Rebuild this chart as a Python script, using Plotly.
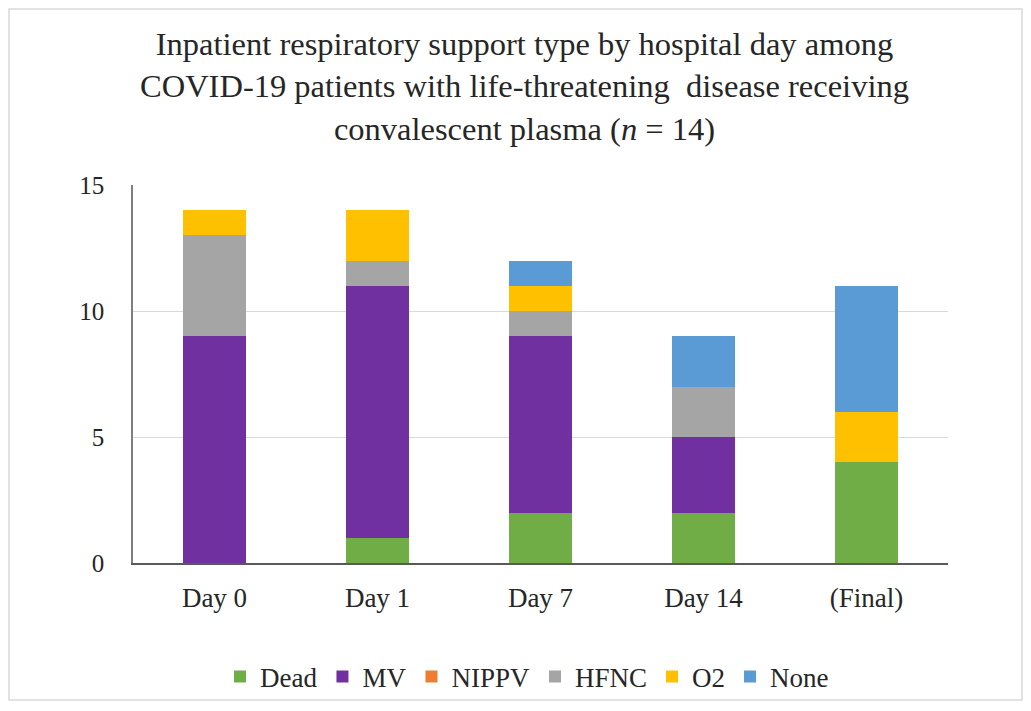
import plotly.graph_objects as go

categories = ["Day 0", "Day 1", "Day 7", "Day 14", "(Final)"]
dead = [0, 1, 2, 2, 4]
mv = [9, 10, 7, 3, 0]
nippv = [0, 0, 0, 0, 0]
hfnc = [4, 1, 1, 2, 0]
o2 = [1, 2, 1, 0, 2]
none_ = [0, 0, 1, 2, 5]

series = [
    ("Dead", dead, "#70AD47"),
    ("MV", mv, "#7030A0"),
    ("NIPPV", nippv, "#ED7D31"),
    ("HFNC", hfnc, "#A5A5A5"),
    ("O2", o2, "#FFC000"),
    ("None", none_, "#5B9BD5"),
]

SERIF = "Liberation Serif"

fig = go.Figure()
for name, vals, color in series:
    fig.add_trace(go.Bar(x=categories, y=vals, name=name, marker_color=color,
                         marker_line_width=0))

OFF = 8  # page offset of the figure in the browser window
W, H = 1031, 711
L, R, T, B = 133 - OFF, 948 - OFF, 185 - OFF, 563 - OFF
fig.update_layout(
    width=W, height=H,
    barmode="stack", bargap=0.61,
    plot_bgcolor="white", paper_bgcolor="white",
    font=dict(family=SERIF, color="#262626", size=24),
    margin=dict(l=L, r=W - R, t=T, b=H - B, autoexpand=False),
    legend=dict(orientation="h", x=(527 - OFF - L) / (R - L), xanchor="center",
                y=-(669 - B) / (B - T), yanchor="middle",
                font=dict(family=SERIF, size=27), bgcolor="rgba(0,0,0,0)",
                traceorder="normal", itemwidth=30),
    xaxis=dict(showline=True, linecolor="#595959", linewidth=1.5, ticks="",
               tickfont=dict(family=SERIF, size=27), ticklabelstandoff=10),
    yaxis=dict(range=[0, 15], tickvals=[0, 5, 10, 15], showgrid=True,
               gridcolor="#D9D9D9", showline=True, linecolor="#7F7F7F",
               linewidth=1.5, ticks="", tickfont=dict(family=SERIF, size=25),
               zeroline=False, ticklabelstandoff=22),
)
fig.add_annotation(
    text="Inpatient respiratory support type by hospital day among<br>COVID-19 patients with life-threatening  disease receiving<br>convalescent plasma (<i>n</i> = 14)",
    xref="paper", yref="paper", x=(524 - OFF - L) / (R - L), y=(B - (86 - OFF)) / (B - T),
    xanchor="center", yanchor="middle", showarrow=False,
    font=dict(family=SERIF, size=32.5, color="#262626"),
)
fig.add_shape(type="rect", xref="paper", yref="paper",
              x0=-(L - 1) / (R - L), x1=(1014 - L) / (R - L),
              y0=-(692 - B) / (B - T), y1=(B - 1) / (B - T),
              line=dict(color="#D9D9D9", width=1.5), layer="below")
fig.write_html("out.html")
